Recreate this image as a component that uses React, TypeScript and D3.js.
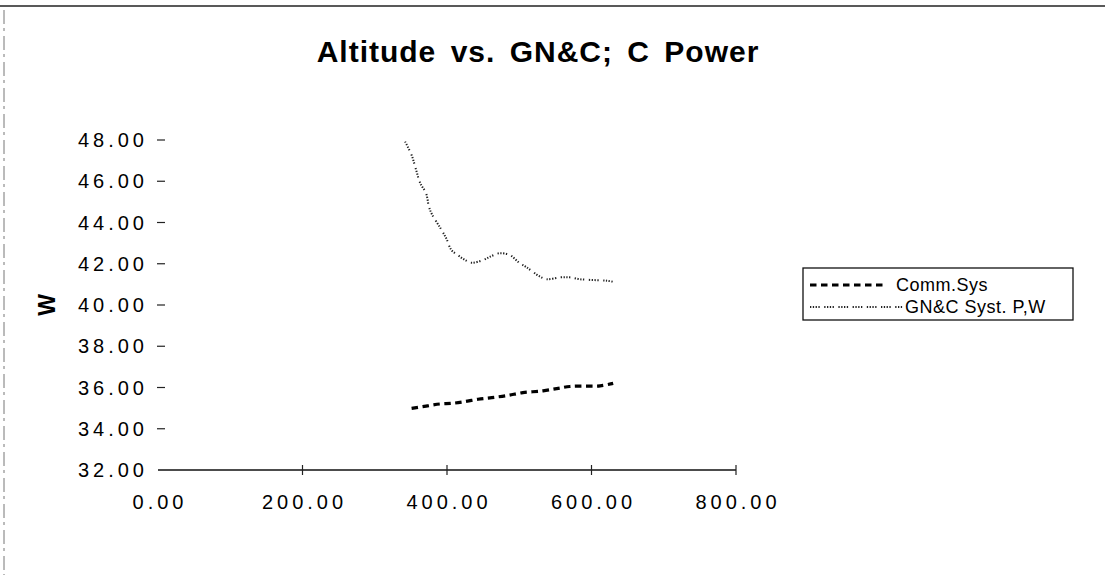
import React from "react";
import * as d3 from "d3";

const W = 1105;
const H = 581;

const chartTitle = "Altitude vs. GN&C; C Power";
const yAxisTitle = "W";
const seriesNames = ["Comm.Sys", "GN&C Syst. P,W"];

const xTicks = [0, 200, 400, 600, 800];
const yTicks = [32, 34, 36, 38, 40, 42, 44, 46, 48];

const commAltitude = [351, 371, 390, 406, 422, 443, 462, 483, 505, 533, 554, 570, 591, 612, 630];
const commPower = [34.99, 35.1, 35.2, 35.23, 35.3, 35.43, 35.51, 35.61, 35.75, 35.84, 35.96, 36.05, 36.07, 36.08, 36.2];

const gncAltitude = [342, 351, 357, 363, 371, 375, 379, 391, 399, 406, 415, 425, 434, 450, 462, 473, 487, 500, 510, 529, 538, 557, 570, 584, 603, 621, 634];
const gncPower = [47.92, 47.27, 46.58, 45.9, 45.42, 44.77, 44.41, 43.72, 43.23, 42.67, 42.42, 42.18, 42.05, 42.18, 42.38, 42.51, 42.42, 42.05, 41.83, 41.37, 41.25, 41.34, 41.34, 41.25, 41.21, 41.18, 41.1];

const FONT = "'Liberation Sans', Arial, Helvetica, sans-serif";

export default function App() {
  const x = d3.scaleLinear().domain([0, 800]).range([158, 736]);
  const y = d3.scaleLinear().domain([32, 48]).range([470, 140]);

  const line = d3
    .line<[number, number]>()
    .x((d) => x(d[0]))
    .y((d) => y(d[1]))
    .curve(d3.curveCatmullRom.alpha(0.5));

  const commPts: [number, number][] = commAltitude.map((a, i) => [a, commPower[i]]);
  const gncPts: [number, number][] = gncAltitude.map((a, i) => [a, gncPower[i]]);

  const gncDash = "1.3,1.5,1.3,1.5,1.3,1.5,1.3,4.5";
  const commDash = "6.5,4.5";

  return (
    <div style={{ position: "absolute", left: 0, top: 0, margin: 0 }}>
      <svg width={W} height={H} style={{ display: "block", background: "#fff" }}>
        <rect x={0} y={0} width={W} height={H} fill="#fff" />
        {/* scan frame lines */}
        <line x1={0} x2={W} y1={6} y2={6} stroke="#222" strokeWidth={1.5} />
        <line x1={4} x2={4} y1={10} y2={575} stroke="#777" strokeWidth={1} strokeDasharray="14,4,3,5" />

        {/* title */}
        <text
          x={538}
          y={62}
          textAnchor="middle"
          fontFamily={FONT}
          fontWeight="bold"
          fontSize={30}
          letterSpacing={1}
          wordSpacing={5}
          fill="#000"
        >
          {chartTitle}
        </text>

        {/* y axis ticks and labels */}
        {yTicks.map((t) => (
          <g key={"y" + t}>
            {t !== 32 && (
              <line x1={157} x2={165} y1={y(t)} y2={y(t)} stroke="#222" strokeWidth={1.2} />
            )}
            <text
              x={148}
              y={y(t) + 7}
              textAnchor="end"
              fontFamily={FONT}
              fontSize={20}
              letterSpacing={4}
              fill="#000"
            >
              {t.toFixed(2)}
            </text>
          </g>
        ))}

        {/* y axis title */}
        <text
          transform={`translate(55,${y(40)}) rotate(-90)`}
          textAnchor="middle"
          fontFamily={FONT}
          fontWeight="bold"
          fontSize={23}
          fill="#000"
        >
          {yAxisTitle}
        </text>

        {/* x axis */}
        <line x1={x(0)} x2={x(800)} y1={y(32)} y2={y(32)} stroke="#111" strokeWidth={1.3} />
        {xTicks.map((t) => (
          <g key={"x" + t}>
            {t !== 0 && (
              <line x1={x(t)} x2={x(t)} y1={y(32) - 5} y2={y(32) + 5} stroke="#222" strokeWidth={1.2} />
            )}
            <text
              x={x(t) + 2}
              y={509}
              textAnchor="middle"
              fontFamily={FONT}
              fontSize={20}
              letterSpacing={4}
              fill="#000"
            >
              {t.toFixed(2)}
            </text>
          </g>
        ))}

        {/* series */}
        <path
          d={line(gncPts) || ""}
          fill="none"
          stroke="#222"
          strokeWidth={2}
          strokeDasharray={gncDash}
        />
        <path
          d={line(commPts) || ""}
          fill="none"
          stroke="#000"
          strokeWidth={3.2}
          strokeDasharray={commDash}
        />

        {/* legend */}
        <rect x={803} y={268} width={270} height={52} fill="none" stroke="#111" strokeWidth={1.3} />
        <line x1={810} x2={884} y1={285} y2={285} stroke="#000" strokeWidth={3.2} strokeDasharray={commDash} />
        <text x={896} y={291} fontFamily={FONT} fontSize={18} letterSpacing={0.5} fill="#000">
          {seriesNames[0]}
        </text>
        <line x1={810} x2={903} y1={307} y2={307} stroke="#222" strokeWidth={2} strokeDasharray={gncDash} />
        <text x={905} y={313} fontFamily={FONT} fontSize={18} letterSpacing={0.5} fill="#000">
          {seriesNames[1]}
        </text>
      </svg>
    </div>
  );
}
